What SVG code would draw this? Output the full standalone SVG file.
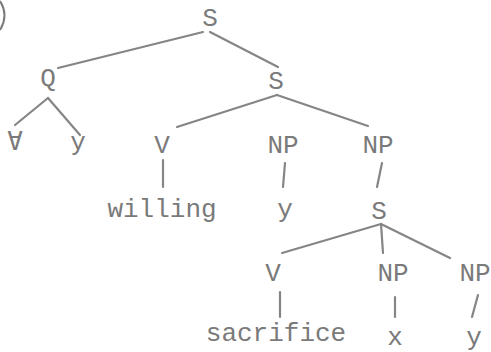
<svg xmlns="http://www.w3.org/2000/svg" width="491" height="352" viewBox="0 0 491 352">
  <style>
    .lbl { font-family: "Liberation Mono", "DejaVu Sans Mono", monospace; font-size: 26px; fill: #7a7a7a; text-anchor: middle; }
    .edge { stroke: #858585; stroke-width: 2.2; fill: none; stroke-linecap: round; }
  </style>
  <rect width="491" height="352" fill="#ffffff"/>

  <!-- right half of the circled example number -->
  <path d="M0,1 Q9,15 0,30" stroke="#7a7a7a" stroke-width="2" fill="none"/>

  <g id="connectors">
    <line class="edge" x1="203" y1="32" x2="58" y2="68"/>
    <line class="edge" x1="210" y1="32" x2="278" y2="67"/>
    <line class="edge" x1="48" y1="98" x2="15" y2="125"/>
    <line class="edge" x1="48" y1="98" x2="80" y2="135"/>
    <line class="edge" x1="277" y1="95" x2="177" y2="127"/>
    <line class="edge" x1="277" y1="95" x2="368" y2="126"/>
    <line class="edge" x1="163" y1="160" x2="163" y2="187"/>
    <line class="edge" x1="285" y1="163" x2="283" y2="187"/>
    <line class="edge" x1="382" y1="163" x2="377" y2="187"/>
    <line class="edge" x1="381" y1="224" x2="282" y2="253"/>
    <line class="edge" x1="381" y1="224" x2="383" y2="253"/>
    <line class="edge" x1="381" y1="224" x2="450" y2="258"/>
    <line class="edge" x1="280" y1="292" x2="280" y2="317"/>
    <line class="edge" x1="395" y1="297" x2="395" y2="317"/>
    <line class="edge" x1="478" y1="295" x2="472" y2="317"/>
  </g>

  <g id="s-root"><text class="lbl" x="210" y="26">S</text></g>
  <g id="q"><text class="lbl" x="48" y="86">Q</text></g>
  <g id="forall"><text class="lbl" x="15" y="150">∀</text></g>
  <g id="q-y"><text class="lbl" x="78" y="150">y</text></g>
  <g id="s-mid"><text class="lbl" x="276" y="89">S</text></g>
  <g id="v-willing"><text class="lbl" x="162" y="153">V</text></g>
  <g id="np-y"><text class="lbl" x="283" y="153">NP</text></g>
  <g id="np-s"><text class="lbl" x="378" y="153">NP</text></g>
  <g id="willing"><text class="lbl" x="162" y="217">willing</text></g>
  <g id="y-1"><text class="lbl" x="285" y="217">y</text></g>
  <g id="s-low"><text class="lbl" x="379" y="219">S</text></g>
  <g id="v-sacrifice"><text class="lbl" x="273" y="281">V</text></g>
  <g id="np-x"><text class="lbl" x="393" y="281">NP</text></g>
  <g id="np-y2"><text class="lbl" x="475" y="281">NP</text></g>
  <g id="sacrifice"><text class="lbl" x="276" y="341">sacrifice</text></g>
  <g id="x"><text class="lbl" x="395" y="345">x</text></g>
  <g id="y-2"><text class="lbl" x="474" y="345">y</text></g>
</svg>
